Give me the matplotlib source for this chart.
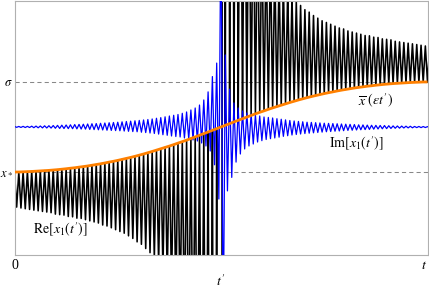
import numpy as np
import matplotlib
matplotlib.use("Agg")
import matplotlib.pyplot as plt

plt.rcParams['mathtext.fontset'] = 'stix'
plt.rcParams['font.family'] = ['Liberation Serif', 'DejaVu Serif']

# ---- data (y in units where x_* = 0 and sigma = 1; one entry per oscillation cycle) ----
n_cycles = 96
xbar = [0.000, 0.000, 0.002, 0.004, 0.006, 0.009, 0.012, 0.015, 0.018, 0.022,
        0.026, 0.031, 0.036, 0.042, 0.047, 0.054, 0.060, 0.067, 0.075, 0.083,
        0.091, 0.100, 0.110, 0.119, 0.129, 0.140, 0.151, 0.162, 0.174, 0.187,
        0.200, 0.214, 0.228, 0.243, 0.258, 0.273, 0.288, 0.304, 0.321, 0.337,
        0.354, 0.372, 0.390, 0.408, 0.426, 0.444, 0.463, 0.481, 0.500,
        0.519, 0.537, 0.556, 0.574, 0.592, 0.610, 0.628, 0.646, 0.663, 0.679,
        0.696, 0.712, 0.727, 0.742, 0.757, 0.772, 0.786, 0.800, 0.813, 0.826,
        0.838, 0.849, 0.860, 0.871, 0.881, 0.890, 0.900, 0.909, 0.917, 0.925,
        0.933, 0.940, 0.946, 0.953, 0.958, 0.964, 0.969, 0.974, 0.978, 0.982,
        0.985, 0.988, 0.991, 0.994, 0.996, 0.998, 1.000, 1.000]

re_amp = [0.39, 0.40, 0.41, 0.42, 0.43, 0.44, 0.45, 0.46, 0.47, 0.49,
          0.50, 0.51, 0.53, 0.54, 0.56, 0.57, 0.59, 0.61, 0.63, 0.65,
          0.68, 0.70, 0.73, 0.76, 0.79, 0.82, 0.86, 0.90, 0.95, 0.99,
          1.05, 1.11, 1.18, 1.26, 1.35, 1.45, 1.58, 1.72, 1.89, 2.10,
          2.36, 2.70, 3.15, 3.78, 4.7, 6.3, 9.5, 18.9,
          20.0,
          18.9, 9.5, 6.3, 4.7, 3.78, 3.15, 2.70, 2.36, 2.10, 1.89,
          1.72, 1.58, 1.45, 1.35, 1.26, 1.18, 1.11, 1.05, 0.99, 0.95,
          0.90, 0.86, 0.82, 0.79, 0.76, 0.73, 0.70, 0.68, 0.65, 0.63,
          0.61, 0.59, 0.57, 0.56, 0.54, 0.53, 0.51, 0.50, 0.49, 0.47,
          0.46, 0.45, 0.44, 0.43, 0.42, 0.41, 0.40, 0.39]

im_base = 0.5
im_up = [0.006, 0.006, 0.007, 0.007, 0.009, 0.010, 0.011, 0.013, 0.014, 0.016,
         0.018, 0.020, 0.022, 0.024, 0.027, 0.029, 0.031, 0.033, 0.036, 0.038,
         0.041, 0.044, 0.047, 0.050, 0.053, 0.057, 0.061, 0.065, 0.069, 0.073,
         0.078, 0.083, 0.089, 0.097, 0.104, 0.113, 0.122, 0.130, 0.139, 0.152,
         0.167, 0.189, 0.211, 0.244, 0.30, 0.39, 0.56, 0.71,
         2.5,
         0.80, 0.42, 0.267, 0.211, 0.178, 0.156, 0.144, 0.133, 0.122, 0.111,
         0.106, 0.100, 0.092, 0.086, 0.079, 0.072, 0.067, 0.062, 0.058, 0.053,
         0.051, 0.048, 0.045, 0.042, 0.040, 0.038, 0.036, 0.033, 0.031, 0.029,
         0.027, 0.024, 0.023, 0.021, 0.019, 0.018, 0.017, 0.016, 0.014, 0.012,
         0.011, 0.010, 0.009, 0.008, 0.006, 0.006, 0.005, 0.004]
im_down = [0.004, 0.005, 0.006, 0.006, 0.008, 0.009, 0.010, 0.011, 0.012, 0.014,
           0.016, 0.017, 0.018, 0.019, 0.021, 0.023, 0.024, 0.027, 0.029, 0.031,
           0.033, 0.036, 0.038, 0.040, 0.042, 0.045, 0.048, 0.051, 0.053, 0.058,
           0.062, 0.067, 0.072, 0.079, 0.086, 0.092, 0.100, 0.106, 0.111, 0.122,
           0.133, 0.144, 0.156, 0.178, 0.211, 0.267, 0.42, 0.80,
           2.5,
           0.71, 0.56, 0.39, 0.30, 0.244, 0.211, 0.189, 0.167, 0.152, 0.139,
           0.130, 0.122, 0.113, 0.104, 0.097, 0.089, 0.083, 0.078, 0.073, 0.069,
           0.065, 0.061, 0.057, 0.053, 0.050, 0.047, 0.044, 0.041, 0.038, 0.036,
           0.033, 0.031, 0.029, 0.027, 0.024, 0.022, 0.020, 0.018, 0.016, 0.014,
           0.013, 0.011, 0.010, 0.009, 0.007, 0.007, 0.006, 0.006]

y_levels = [0.0, 1.0]
y_labels = [r'$x_*$', r'$\sigma$']
x_ticks = [0.0, 1.0]
x_tick_labels = ['0', r'$t$']

# ---- build the oscillating lines from the per-cycle values ----
xb = np.array(xbar)
ra = np.array(re_amp)
iu = np.array(im_up)
idn = np.array(im_down)
k = np.arange(n_cycles + 1)
centre = n_cycles // 2
t_cycle = k / n_cycles
half = 0.5 / n_cycles

re_first = np.where(k == centre, xb - ra, xb)
re_second = np.where(k < centre, xb - ra, xb + ra)
t_line = np.ravel(np.column_stack([t_cycle, t_cycle + half]))
re_line = np.ravel(np.column_stack([re_first, re_second]))
im_line = np.ravel(np.column_stack([im_base + iu, im_base - idn]))

W, H = 429, 294
fig = plt.figure(figsize=(W / 100, H / 100), dpi=100)
ax = fig.add_axes([14.5 / W, (H - 255) / H, 413 / W, 254.5 / H])

for lv in y_levels:
    ax.axhline(lv, color='#888888', lw=0.75, ls=(0, (4, 3)), zorder=1)

ax.plot(t_line, re_line, color='black', lw=1.15, zorder=2)
ax.plot(t_line, im_line, color='#0000ff', lw=0.9, zorder=3)
ax.plot(t_cycle, xb, color='#ff8000', lw=2.0, zorder=4, solid_capstyle='butt')

ax.set_xlim(0, 1)
ax.set_ylim(-0.922, 1.905)
for s in ax.spines.values():
    s.set_color('#b0b0b0')
    s.set_linewidth(0.8)

ax.set_xticks(x_ticks)
ax.set_xticklabels(x_tick_labels, fontsize=10)
xt = ax.get_xticklabels()
xt[1].set_horizontalalignment('right')
ax.set_yticks(y_levels)
ax.set_yticklabels(y_labels, fontsize=9)
ax.tick_params(axis='y', length=0, pad=1)
ax.tick_params(axis='x', length=0, pad=3)
ax.set_xlabel(r"$t'$", fontsize=10, labelpad=1)

ax.text(0.11, -0.64, r"$\mathrm{Re}[x_1(t')]$", fontsize=10, ha='center', va='center')
ax.text(0.828, 0.31, r"$\mathrm{Im}[x_1(t')]$", fontsize=10, ha='center', va='center')
ax.text(0.875, 0.79, r"$\overline{x}\ (\epsilon t')$", fontsize=10, ha='center', va='center')

fig.savefig('out.png', dpi=100)
